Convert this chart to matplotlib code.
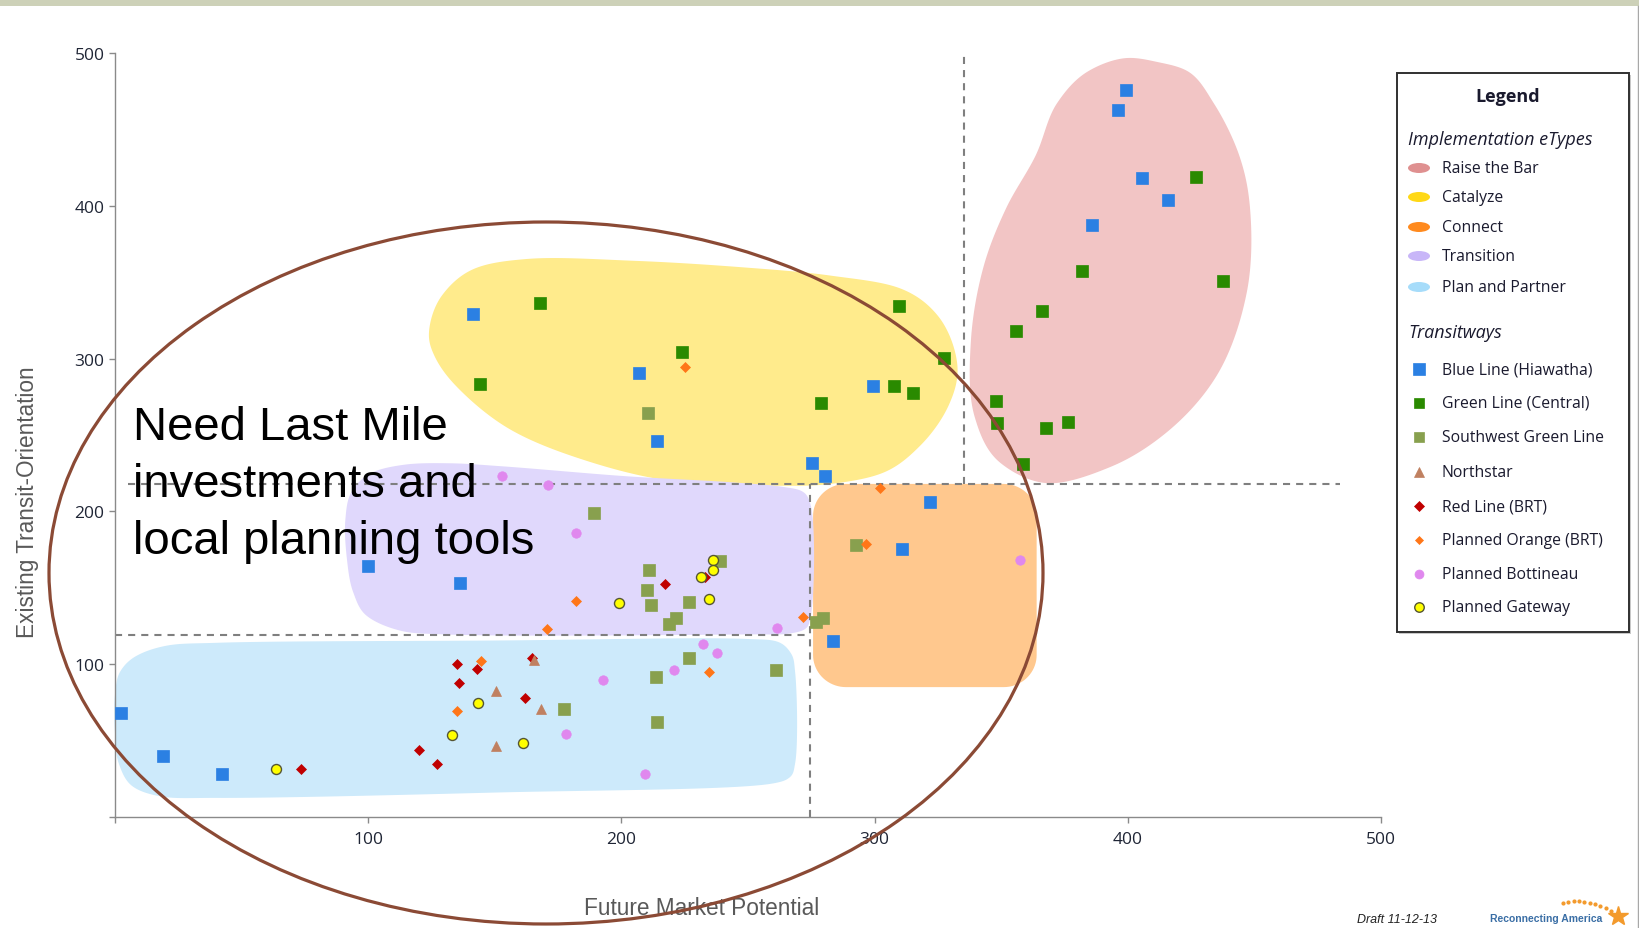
import numpy as np
import matplotlib
matplotlib.use("Agg")
import matplotlib.pyplot as plt
from matplotlib.patches import Polygon, Ellipse, Rectangle

# ---------------------------------------------------------------- data
# Station areas: (Future Market Potential, Existing Transit-Orientation)
blue_x = [399.3, 396.2, 405.5, 416.0, 385.7, 141.2, 206.9, 214.1, 299.3, 275.2,
          280.3, 321.7, 310.8, 283.4, 100.0, 136.3, 2.2, 19.0, 42.4]
blue_y = [475.8, 462.5, 418.0, 403.6, 387.2, 329.1, 290.8, 246.1, 282.1, 231.7,
          223.0, 206.0, 175.4, 115.0, 164.0, 153.0, 67.9, 39.7, 28.1]

green_x = [168.0, 144.3, 224.1, 309.5, 327.5, 307.8, 315.1, 278.8, 348.1, 348.3,
           367.8, 376.5, 358.7, 355.7, 366.0, 381.8, 426.9, 437.7]
green_y = [336.2, 283.2, 304.5, 334.6, 300.2, 282.1, 277.3, 271.2, 272.4, 258.0,
           254.8, 258.7, 231.0, 318.3, 331.0, 357.5, 418.8, 351.0]

swgreen_x = [210.7, 189.0, 210.8, 238.9, 210.2, 211.6, 226.8, 221.4, 218.8, 279.5,
             276.9, 292.7, 226.8, 261.0, 213.5, 177.2, 214.0]
swgreen_y = [264.6, 199.0, 161.6, 167.3, 148.6, 139.0, 141.0, 130.0, 126.3, 130.0,
             127.4, 178.2, 103.9, 96.2, 91.6, 70.7, 62.3]

northstar_x = [165.6, 150.5, 168.3, 150.5]
northstar_y = [102.6, 82.5, 71.0, 46.7]

red_x = [217.2, 233.0, 135.1, 142.9, 164.5, 136.0, 161.8, 120.2, 127.0, 73.6]
red_y = [152.5, 157.0, 100.1, 96.9, 104.1, 87.7, 78.0, 43.7, 35.0, 31.6]

orange_x = [225.0, 302.0, 296.6, 182.2, 170.6, 271.7, 234.7, 144.6, 135.2]
orange_y = [294.7, 215.0, 178.9, 141.2, 123.3, 130.8, 95.1, 102.0, 69.3]

bottineau_x = [153.0, 171.0, 182.2, 357.6, 261.6, 232.1, 237.6, 220.6, 192.6, 178.1, 209.5]
bottineau_y = [223.4, 217.4, 185.7, 168.4, 123.7, 113.4, 107.5, 96.4, 89.7, 54.1, 28.1]

gateway_x = [236.3, 236.0, 231.4, 234.4, 199.0, 143.3, 133.0, 161.3, 63.5]
gateway_y = [168.4, 161.6, 157.3, 142.7, 140.0, 74.9, 53.9, 48.5, 31.2]

# quadrant thresholds
market_low, market_high = 274.4, 335.5
transit_low, transit_high = 119.0, 218.0

tick_values = [0, 100, 200, 300, 400, 500]
tick_labels = ["", "100", "200", "300", "400", "500"]

etype_names = ["Raise the Bar", "Catalyze", "Connect", "Transition", "Plan and Partner"]
transit_names = ["Blue Line (Hiawatha)", "Green Line (Central)", "Southwest Green Line",
                 "Northstar", "Red Line (BRT)", "Planned Orange (BRT)",
                 "Planned Bottineau", "Planned Gateway"]

# implementation-type regions (outlines in chart units)
raise_outline = [(398.8, 496.6), (412, 494), (424, 487.7), (434, 467), (444, 433),
                 (448.3, 397.9), (447, 343.4), (435.1, 288.8), (415.4, 251.8), (393, 229),
                 (368, 218.5), (349.5, 232), (339.5, 262), (338, 310.7), (343, 360),
                 (352, 398.6), (363.6, 432.9), (372, 467), (384, 487.7)]
catalyze_outline = [(124, 317), (129, 341), (141.6, 358.6), (162.7, 365.2), (205, 364),
                    (247.4, 359.8), (282.7, 354.3), (310.8, 345.5), (325, 328), (332.7, 295.4),
                    (329.2, 269.2), (318, 243), (303.8, 225.6), (282.7, 218), (261.5, 216.8),
                    (219.2, 220), (184, 234.3), (155.7, 254), (134.5, 282.4), (126.1, 302)]
connect_box = (275.7, 364.0, 85.0, 218.0)
transition_outline = [(91, 195), (93.5, 213), (101, 225), (114, 230.5), (132, 231.5),
                      (153, 229.5), (202, 223), (244, 219), (264, 216), (271.5, 213),
                      (274.6, 205), (274.6, 130), (272.5, 123), (266, 120), (250, 119.5),
                      (130, 119.5), (112.6, 122), (99.4, 131.7), (94.1, 147), (91.6, 168.8)]
plan_outline = [(0, 80), (2, 95), (8, 105), (20, 112), (40, 114), (150, 115.5), (250, 116.5),
                (262, 114.5), (267, 107), (268.6, 95), (268.6, 35), (266.5, 26), (260, 22),
                (150, 16), (40, 12.5), (18, 13.5), (7, 20), (1.5, 35), (0, 55)]

region_fill = ["#f2c5c5", "#ffeb8c", "#ffc88e", "#e0d8fc", "#cdeafb"]
legend_fill = ["#df9090", "#ffd816", "#ff8a1e", "#c8b6f8", "#a6dcfa"]


def smooth_closed(pts, n=24, alpha=0.5):
    """Centripetal Catmull-Rom spline through a closed list of points."""
    P = np.asarray(pts, float)
    m = len(P)
    out = []
    for i in range(m):
        p0, p1, p2, p3 = P[(i - 1) % m], P[i], P[(i + 1) % m], P[(i + 2) % m]
        t0 = 0.0
        t1 = t0 + np.linalg.norm(p1 - p0) ** alpha
        t2 = t1 + np.linalg.norm(p2 - p1) ** alpha
        t3 = t2 + np.linalg.norm(p3 - p2) ** alpha
        t = np.linspace(t1, t2, n, endpoint=False)[:, None]
        a1 = (t1 - t) / (t1 - t0) * p0 + (t - t0) / (t1 - t0) * p1
        a2 = (t2 - t) / (t2 - t1) * p1 + (t - t1) / (t2 - t1) * p2
        a3 = (t3 - t) / (t3 - t2) * p2 + (t - t2) / (t3 - t2) * p3
        b1 = (t2 - t) / (t2 - t0) * a1 + (t - t0) / (t2 - t0) * a2
        b2 = (t3 - t) / (t3 - t1) * a2 + (t - t1) / (t3 - t1) * a3
        out.append((t2 - t) / (t2 - t1) * b1 + (t - t1) / (t2 - t1) * b2)
    return np.vstack(out)


def rounded_box(x0, x1, y0, y1, rx, ry, n=20):
    th = np.linspace(0, np.pi / 2, n)
    pts = []
    for cx, cy, start in [(x1 - rx, y1 - ry, 0.0), (x0 + rx, y1 - ry, np.pi / 2),
                          (x0 + rx, y0 + ry, np.pi), (x1 - rx, y0 + ry, 1.5 * np.pi)]:
        a = start + th
        pts.append(np.column_stack([cx + rx * np.cos(a), cy + ry * np.sin(a)]))
    return np.vstack(pts)


# ---------------------------------------------------------------- figure
W, H = 1640, 929
fig = plt.figure(figsize=(W / 100, H / 100), dpi=100)
fig.patch.set_facecolor("white")

AX_L, AX_R, AX_T, AX_B = 115, 1381, 54, 818
ax = fig.add_axes([AX_L / W, 1 - AX_B / H, (AX_R - AX_L) / W, (AX_B - AX_T) / H])
ax.set_xlim(0, 500)
ax.set_ylim(0, 500)
ax.patch.set_alpha(0)
for s in ["top", "right"]:
    ax.spines[s].set_visible(False)
for s in ["left", "bottom"]:
    ax.spines[s].set_color("#8a8a8a")
    ax.spines[s].set_linewidth(1.0)

ax.set_xticks(tick_values)
ax.set_xticklabels(tick_labels)
ax.set_yticks(tick_values)
ax.set_yticklabels(tick_labels)
ax.tick_params(direction="out", length=4, width=1, color="#8a8a8a",
               labelsize=12.5, labelcolor="#1f2535")
ax.tick_params(axis="x", pad=6)
ax.tick_params(axis="y", pad=3.5)
for lab in ax.get_xticklabels() + ax.get_yticklabels():
    lab.set_family("Open Sans")

ax.set_xlabel("Future Market Potential", family="Liberation Sans", fontsize=16.3,
              color="#595959", va="center")
ax.xaxis.set_label_coords(0.463, -0.119)
ax.set_ylabel("Existing Transit-Orientation", family="Liberation Sans", fontsize=16.3,
              color="#595959", va="center", ha="center")
ax.yaxis.set_label_coords(-0.0695, 0.4136)

# regions
shapes = [smooth_closed(raise_outline), smooth_closed(catalyze_outline),
          rounded_box(*connect_box, rx=13, ry=21),
          smooth_closed(transition_outline), smooth_closed(plan_outline)]
for pts, col in zip(shapes, region_fill):
    ax.add_patch(Polygon(pts, closed=True, facecolor=col, edgecolor="none",
                         zorder=1, clip_on=False))

# quadrant guides
dash = dict(color="#7f7f7f", lw=1.5, ls=(0, (3.4, 2.9)), zorder=2)
ax.plot([5, 484], [transit_high, transit_high], **dash)
ax.plot([0, market_low], [transit_low, transit_low], **dash)
ax.plot([market_low, market_low], [0, transit_high], **dash)
ax.plot([market_high, market_high], [transit_high, 500], **dash)

# station markers
series = [
    (blue_x, blue_y, "s", 8.4, "#2b80e3", "#2b80e3", 0.5),
    (green_x, green_y, "s", 8.0, "#2a8a00", "#2a8a00", 0.5),
    (swgreen_x, swgreen_y, "s", 8.0, "#88a04e", "#88a04e", 0.5),
    (red_x, red_y, "D", 5.6, "#c00000", "#c00000", 0.5),
    (northstar_x, northstar_y, "^", 7.5, "#c08060", "#c08060", 0.5),
    (orange_x, orange_y, "D", 4.8, "#ff7618", "#ff7618", 0.5),
    (bottineau_x, bottineau_y, "o", 6.8, "#e088ee", "#e088ee", 0.5),
    (gateway_x, gateway_y, "o", 7.2, "#ffff00", "#555533", 1.0),
]
for i, (xs, ys, mk, ms, fc, ec, mew) in enumerate(series):
    ax.plot(xs, ys, ls="none", marker=mk, ms=ms, mfc=fc, mec=ec, mew=mew,
            zorder=3 + i * 0.1, clip_on=False)

# ---------------------------------------------------------------- overlay (pixel units)
ov = fig.add_axes([0, 0, 1, 1], zorder=5)
ov.set_xlim(0, W)
ov.set_ylim(H, 0)
ov.axis("off")
ov.patch.set_alpha(0)

ov.add_patch(Rectangle((0, 0), W, 7, facecolor="#cdd1b8", edgecolor="none"))
ov.plot([1638, 1638], [7, H], color="#a8a8a8", lw=1)

# callout
ov.add_patch(Ellipse((546, 574), 994, 702, facecolor="none", edgecolor="#8b4a35", lw=2.3))
for txt, yb in zip(["Need Last Mile", "investments and", "local planning tools"],
                   [440, 497, 554]):
    ov.text(133, yb, txt, family="Liberation Sans", fontsize=34, color="black",
            va="baseline", ha="left")

# legend panel
ov.add_patch(Rectangle((1399, 76), 232, 559, facecolor="#c8c8c8", edgecolor="none"))
ov.add_patch(Rectangle((1397, 74), 232, 559, facecolor="white", edgecolor="#303030", lw=1.4))
lg = dict(family="Open Sans", color="#1a1a2e")
ov.text(1508, 97, "Legend", fontsize=13, weight="bold", ha="center", va="center", **lg)
ov.text(1408, 140, "Implementation eTypes", fontsize=13, style="italic",
        ha="left", va="center", **lg)
etype_rows = [169, 198, 228, 257, 288]
for name, col, yy in zip(etype_names, legend_fill, etype_rows):
    ov.add_patch(Ellipse((1419, yy), 22, 10, facecolor=col, edgecolor="none"))
    ov.text(1442, yy, name, fontsize=11.3, ha="left", va="center", **lg)

ov.text(1408, 333, "Transitways", fontsize=13, style="italic", ha="left", va="center", **lg)
transit_rows = [370, 404, 438, 473, 507, 541, 575, 608]
legend_markers = [series[0], series[1], series[2], series[4], series[3],
                  series[5], series[6], series[7]]
for name, (_, _, mk, ms, fc, ec, mew), yy in zip(transit_names, legend_markers, transit_rows):
    ov.plot([1419], [yy], ls="none", marker=mk, ms=ms * 0.95, mfc=fc, mec=ec, mew=mew)
    ov.text(1442, yy, name, fontsize=11.3, ha="left", va="center", **lg)

# footer
ov.text(1357, 920, "Draft 11-12-13", family="Liberation Sans", fontsize=9,
        style="italic", color="#222222", ha="left", va="center")
ov.text(1490, 919, "Reconnecting America", family="Liberation Sans", fontsize=7.5,
        weight="bold", color="#3a6ea5", ha="left", va="center")
arc_t = np.linspace(0, 1, 10)
ov.plot(1563 + 48 * arc_t, 904 - 3 * np.sin(np.pi * arc_t) + 8 * arc_t ** 2, ls="none",
        marker="o", ms=2, color="#f39a2c")
ov.plot([1618], [917], ls="none", marker="*", ms=15, color="#f39a2c")

fig.savefig("out.png", dpi=100)
